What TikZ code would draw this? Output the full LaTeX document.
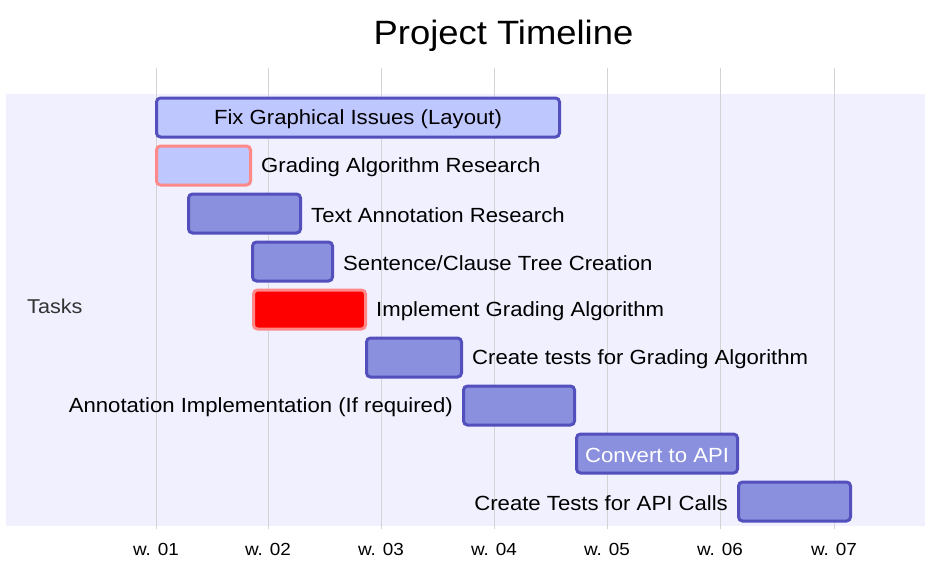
\documentclass[tikz,border=0pt]{standalone}
\usepackage{fontspec}
\setmainfont{Liberation Sans}[FakeStretch=1.08]
\definecolor{secbg}{HTML}{F0F0FF}
\definecolor{taskfill}{HTML}{8A90DD}
\definecolor{taskstroke}{HTML}{534FBC}
\definecolor{activefill}{HTML}{BFC7FF}
\definecolor{critstroke}{HTML}{FF8888}
\definecolor{critfill}{HTML}{FF0000}
\definecolor{gridc}{HTML}{D3D3D3}
\definecolor{sectext}{HTML}{333333}
\begin{document}
\begin{tikzpicture}[x=1pt,y=-1pt,
  taskbar/.style={draw=taskstroke,fill=taskfill,line width=3pt,rounded corners=4pt,minimum height=39pt,inner sep=0pt},
  activebar/.style={taskbar,fill=activefill},
  critactive/.style={taskbar,draw=critstroke,fill=activefill},
  critbar/.style={taskbar,draw=critstroke,fill=critfill},
  lbl/.style={font=\fontsize{20.5}{24}\selectfont,inner sep=0pt,text=black,yshift=-2pt},
  lblr/.style={lbl,anchor=west,xshift=9pt},
  lbll/.style={lbl,anchor=east,xshift=-9pt},
  tick/.style={font=\fontsize{17.5}{20}\selectfont,text=black},
  gridline/.style={draw=gridc,line width=1pt}
]
\useasboundingbox (0,0) rectangle (928,562);
% section background
\fill[secbg] (6,93.5) rectangle (925,525.5);
% grid lines and ticks
\foreach \x/\t [count=\i] in {156/w. 01,268/w. 02,381/w. 03,494/w. 04,607/w. 05,720/w. 06,834/w. 07}{
  \coordinate (gt\i) at (\x,68);
  \coordinate (gb\i) at (\x,529);
  \draw[gridline] (gt\i) -- (gb\i);
  \node[tick] (tk\i) at (\x,549) {\t};
}
% title
\node[font=\fontsize{33.7}{38}\selectfont] (title) at (503.5,36) {Project Timeline};
% section label
\node[font=\fontsize{20}{23}\selectfont,text=sectext,anchor=west,inner sep=0pt] (sec) at (27,306) {Tasks};
% bars
\node[activebar,minimum width=403pt] (b1) at (358,117.5) {};
\node[lbl] (l1) at (b1.center) {Fix Graphical Issues (Layout)};
\node[critactive,minimum width=94pt] (b2) at (203.5,165.5) {};
\node[lblr] (l2) at (b2.east) {Grading Algorithm Research};
\node[taskbar,minimum width=112pt] (b3) at (244.5,213.5) {};
\node[lblr] (l3) at (b3.east) {Text Annotation Research};
\node[taskbar,minimum width=80pt] (b4) at (292.5,261.5) {};
\node[lblr] (l4) at (b4.east) {Sentence/Clause Tree Creation};
\node[critbar,minimum width=112pt] (b5) at (309.5,309.5) {};
\node[lblr] (l5) at (b5.east) {Implement Grading Algorithm};
\node[taskbar,minimum width=95pt] (b6) at (414,357.5) {};
\node[lblr] (l6) at (b6.east) {Create tests for Grading Algorithm};
\node[taskbar,minimum width=111pt] (b7) at (519,405.5) {};
\node[lbll] (l7) at (b7.west) {Annotation Implementation (If required)};
\node[taskbar,minimum width=161pt] (b8) at (657,453.5) {};
\node[lbl,text=white] (l8) at (b8.center) {Convert to API};
\node[taskbar,minimum width=112pt] (b9) at (794.5,501.5) {};
\node[lbll] (l9) at (b9.west) {Create Tests for API Calls};
\end{tikzpicture}
\end{document}
